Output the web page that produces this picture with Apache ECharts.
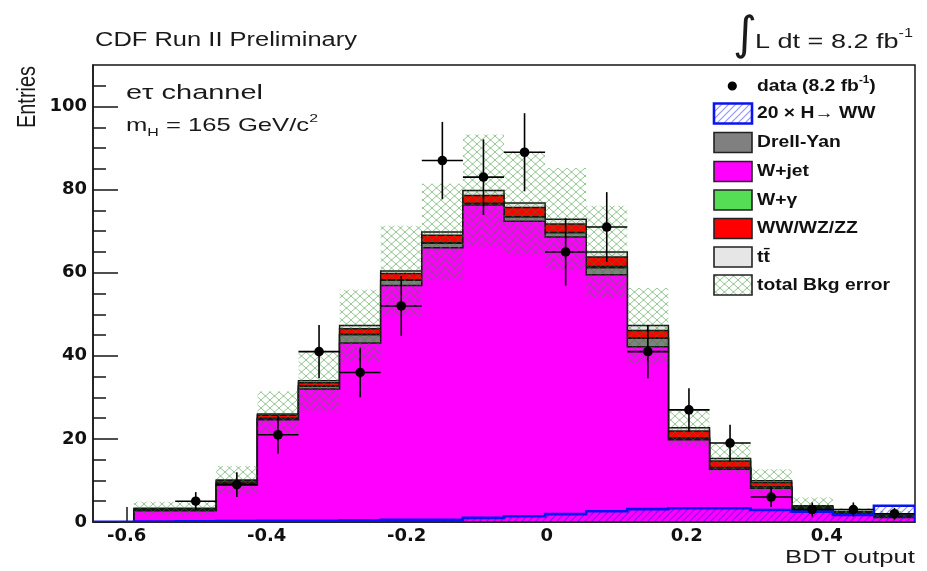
<!DOCTYPE html>
<html>
<head>
<meta charset="utf-8">
<title>CDF BDT output – eτ channel</title>
<script src="https://cdn.jsdelivr.net/npm/echarts@6.0.0/dist/echarts.min.js"></script>
<style>
html,body{margin:0;padding:0;background:#fff;}
#chart{width:927px;height:571px;}
</style>
</head>
<body>
<div id="chart"></div>
<script>
// ---------------- data ----------------
const binEdges = [-0.648,-0.5893,-0.5306,-0.4719,-0.4132,-0.3545,-0.2958,-0.2371,-0.1784,-0.1197,-0.0610,-0.0023,0.0564,0.1151,0.1738,0.2325,0.2912,0.3499,0.4086,0.4673,0.5260];
const wJet      = [0, 2.7, 2.7, 8.9, 24.6, 32.0, 43.1, 56.9, 66.0, 76.3, 72.4, 68.6, 59.5, 42.2, 19.8, 12.7, 8.1, 2.7, 1.7, 1.1];
const drellYan  = [0, 0.2, 0.2, 0.4, 0.3, 0.7, 2.0, 1.3, 1.1, 0.3, 1.0, 1.0, 1.7, 2.0, 0.3, 0.3, 0.3, 0.6, 0.3, 0.1];
const wGamma    = [0, 0.05, 0.05, 0.1, 0.1, 0.1, 0.1, 0.1, 0.1, 0.1, 0.1, 0.1, 0.3, 0.1, 0.1, 0.1, 0.1, 0.1, 0.05, 0.05];
const dibosons  = [0, 0.25, 0.25, 0.5, 0.7, 0.7, 1.3, 1.5, 1.8, 1.9, 2.2, 2.0, 2.3, 1.8, 1.7, 1.6, 1.0, 0.3, 0.3, 0.35];
const ttbar     = [0, 0.1, 0.1, 0.2, 0.3, 0.5, 0.8, 0.6, 0.8, 1.2, 1.1, 1.2, 1.2, 1.2, 0.8, 0.6, 0.4, 0.2, 0.15, 0.1];
const bkgError  = [0, 1.6, 1.6, 3.4, 5.4, 7.2, 8.6, 10.9, 11.6, 13.5, 12.4, 12.3, 11.1, 9.0, 4.5, 3.7, 2.8, 2.0, 0.8, 1.0];
const higgs20x  = [0.05, 0.1, 0.15, 0.2, 0.3, 0.3, 0.4, 0.5, 0.5, 1.0, 1.4, 1.9, 2.6, 3.1, 3.3, 3.3, 2.9, 2.5, 1.7, 3.9];
const dataCounts = [null, null, 5, 9, 21, 41, 36, 52, 87, 83, 89, 65, 71, 41, 27, 19, 6, 3, 3, 2];
const dataErrors = [null, null, 2.2, 3.0, 4.6, 6.4, 6.0, 7.2, 9.3, 9.1, 9.4, 8.1, 8.4, 6.4, 5.2, 4.4, 2.4, 1.7, 1.7, 1.4];
const xMajorTicks = [-0.6, -0.4, -0.2, 0, 0.2, 0.4];
const xMinorTicks = [-0.6,-0.55,-0.5,-0.45,-0.4,-0.35,-0.3,-0.25,-0.2,-0.15,-0.1,-0.05,0,0.05,0.1,0.15,0.2,0.25,0.3,0.35,0.4,0.45,0.5];
const yMajorTicks = [0, 20, 40, 60, 80, 100];
const yMinorTicks = [5,10,15,20,25,30,35,40,45,50,55,60,65,70,75,80,85,90,95,100,105];
const legendLabels = ['data', '20 × H→ WW', 'Drell-Yan', 'W+jet', 'W+γ', 'WW/WZ/ZZ', 't\u0074\u0304', 'total Bkg error'];

// ---------------- styles ----------------
const COL = {wjet:'#ff00ff', dy:'#808080', wg:'#55dd55', vv:'#ff0000', tt:'#e6e6e6', sig:'#0a14f0', line:'#161616'};
const nBins = wJet.length;

// cumulative stack (bottom -> top)
const layerVals = [wJet, drellYan, wGamma, dibosons, ttbar];
const layerCols = [COL.wjet, COL.dy, COL.wg, COL.vv, COL.tt];
const cum = [];
layerVals.forEach((arr, k) => {
  cum.push(arr.map((v, i) => v + (k > 0 ? cum[k-1][i] : 0)));
});
const total = cum[cum.length - 1];

// patterns
function crossHatch(color) {
  const c = document.createElement('canvas'); c.width = 9; c.height = 8;
  const g = c.getContext('2d');
  g.strokeStyle = color; g.lineWidth = 1;
  g.beginPath();
  g.moveTo(-1.125,-1); g.lineTo(10.125,9);
  g.moveTo(-1.125,9); g.lineTo(10.125,-1);
  g.stroke();
  return {image: c, repeat: 'repeat'};
}
function diagHatch(color) {
  const c = document.createElement('canvas'); c.width = 7; c.height = 7;
  const g = c.getContext('2d');
  g.strokeStyle = color; g.lineWidth = 1.2;
  g.beginPath();
  g.moveTo(-1,8); g.lineTo(8,-1);
  g.moveTo(-8,8); g.lineTo(1,-1);
  g.moveTo(6,8); g.lineTo(15,-1);
  g.stroke();
  return {image: c, repeat: 'repeat'};
}
const errPattern = crossHatch('rgba(40,140,40,0.5)');
const sigPattern = diagHatch('rgba(0,0,255,0.42)');

function stepPoints(vals, api) {
  const pts = [api.coord([binEdges[0], 0])];
  for (let i = 0; i < vals.length; i++) {
    pts.push(api.coord([binEdges[i], vals[i]]));
    pts.push(api.coord([binEdges[i+1], vals[i]]));
  }
  pts.push(api.coord([binEdges[vals.length], 0]));
  return pts;
}

const series = [];
// stack: draw from the top cumulative down to the bottom one (ROOT THStack style)
for (let k = cum.length - 1; k >= 0; k--) {
  const vals = cum[k], col = layerCols[k];
  series.push({
    type: 'custom', coordinateSystem: 'cartesian2d', clip: true, silent: true,
    data: [[0, 0]],
    renderItem: (p, api) => ({
      type: 'polygon', shape: {points: stepPoints(vals, api)},
      style: {fill: col, stroke: COL.line, lineWidth: 1.5}
    })
  });
}
// background error band
series.push({
  type: 'custom', coordinateSystem: 'cartesian2d', clip: true, silent: true,
  data: [[0, 0]],
  renderItem: (p, api) => {
    const children = [];
    for (let i = 0; i < nBins; i++) {
      if (!bkgError[i]) continue;
      const a = api.coord([binEdges[i], total[i] + bkgError[i]]);
      const b = api.coord([binEdges[i+1], Math.max(0, total[i] - bkgError[i])]);
      children.push({type: 'rect', shape: {x: a[0], y: a[1], width: b[0]-a[0], height: b[1]-a[1]},
        style: {fill: errPattern}});
    }
    return {type: 'group', children};
  }
});
// signal 20 x H->WW
series.push({
  type: 'custom', coordinateSystem: 'cartesian2d', clip: true, silent: true,
  data: [[0, 0]],
  renderItem: (p, api) => {
    const pts = stepPoints(higgs20x, api);
    return {type: 'group', children: [
      {type: 'polygon', shape: {points: pts}, style: {fill: sigPattern}},
      {type: 'polyline', shape: {points: pts}, style: {stroke: COL.sig, lineWidth: 2.6, fill: null}}
    ]};
  }
});
// data points
const dataItems = [];
dataCounts.forEach((v, i) => {
  if (v == null) return;
  dataItems.push([(binEdges[i] + binEdges[i+1]) / 2, v, dataErrors[i], binEdges[i], binEdges[i+1]]);
});
series.push({
  type: 'custom', coordinateSystem: 'cartesian2d', clip: false, silent: true,
  data: dataItems,
  renderItem: (p, api) => {
    const x = api.value(0), v = api.value(1), e = api.value(2), xl = api.value(3), xr = api.value(4);
    const c = api.coord([x, v]);
    const top = api.coord([x, v + e]), bot = api.coord([x, v - e]);
    const l = api.coord([xl, v]), r = api.coord([xr, v]);
    return {type: 'group', children: [
      {type: 'line', shape: {x1: top[0], y1: top[1], x2: bot[0], y2: bot[1]}, style: {stroke: '#000', lineWidth: 1.6}},
      {type: 'line', shape: {x1: l[0], y1: l[1], x2: r[0], y2: r[1]}, style: {stroke: '#000', lineWidth: 1.6}},
      {type: 'circle', shape: {cx: c[0], cy: c[1], r: 4.8}, style: {fill: '#000'}}
    ]};
  }
});

// ---------------- text helpers ----------------
const mctx = document.createElement('canvas').getContext('2d');
function segWidth(segs) {
  let w = 0;
  segs.forEach(([t, f]) => { mctx.font = f; w += mctx.measureText(t).width; });
  return w;
}
const SANS = '"Liberation Sans", Arial, Helvetica, sans-serif';
const TXT = '#1a1a1a';

function fitText(x, y, text, size, weight, target, align) {
  const f = `${weight} ${size}px ${SANS}`;
  const s = target / segWidth([[text, f]]);
  return {type: 'text', x, y, scaleX: s, silent: true, z: 100,
    style: {text, font: f, fontSize: size, fontWeight: weight, fontFamily: SANS, fill: TXT,
      textAlign: align || 'left', align: align || 'left', textVerticalAlign: 'middle', verticalAlign: 'middle'}};
}

const graphics = [];
graphics.push(fitText(95, 41, 'CDF Run II Preliminary', 19.5, 'normal', 262));
graphics.push(fitText(126, 93, 'eτ channel', 20.5, 'normal', 137));
// m_H = 165 GeV/c^2
(function(){
  const big = 18.5, small = 11.5;
  const w = segWidth([['m', `${big}px ${SANS}`], ['H', `${small}px ${SANS}`], [' = 165 GeV/c', `${big}px ${SANS}`], ['2', `${small}px ${SANS}`]]);
  graphics.push({type: 'text', x: 126, y: 126, scaleX: 192 / w, silent: true, z: 100,
    style: {text: '{n|m}{sub|H}{n| = 165 GeV/c}{sup|2}', fill: TXT, fontFamily: SANS, fontSize: big,
      textAlign: 'left', align: 'left', textVerticalAlign: 'middle', verticalAlign: 'middle',
      rich: {
        n: {fontFamily: SANS, fontSize: big, lineHeight: 26, fill: TXT},
        sub: {fontFamily: SANS, fontSize: small, lineHeight: small, verticalAlign: 'bottom', fill: TXT},
        sup: {fontFamily: SANS, fontSize: small, lineHeight: small, verticalAlign: 'top', fill: TXT}
      }}});
})();
// integral L dt
graphics.push({type: 'text', x: 745, y: 37, silent: true, z: 100,
  style: {text: '∫', font: `46px "DejaVu Sans"`, fontSize: 46, fontFamily: 'DejaVu Sans', fill: TXT,
    textAlign: 'center', align: 'center', textVerticalAlign: 'middle', verticalAlign: 'middle'}});
(function(){
  const big = 20, small = 12;
  const w = segWidth([['L dt = 8.2 fb', `${big}px ${SANS}`], ['-1', `${small}px ${SANS}`]]);
  graphics.push({type: 'text', x: 755, y: 42, scaleX: 158 / w, silent: true, z: 100,
    style: {text: '{n|L dt = 8.2 fb}{sup|-1}', fill: TXT, fontFamily: SANS, fontSize: big,
      textAlign: 'left', align: 'left', textVerticalAlign: 'middle', verticalAlign: 'middle',
      rich: {
        n: {fontFamily: SANS, fontSize: big, lineHeight: 28, fill: TXT},
        sup: {fontFamily: SANS, fontSize: small, lineHeight: small, verticalAlign: 'top', fill: TXT}
      }}});
})();
// axis titles
graphics.push(fitText(915, 558, 'BDT output', 19, 'normal', 130, 'right'));
graphics.push({type: 'text', x: 28, y: 97, rotation: Math.PI / 2, scaleY: 1.3, silent: true, z: 100,
  style: {text: 'Entries', font: `20px ${SANS}`, fontSize: 20, fontFamily: SANS, fill: TXT,
    textAlign: 'center', align: 'center', textVerticalAlign: 'middle', verticalAlign: 'middle'}});

// legend
const legY = [86, 113.5, 142.5, 171.5, 200, 228.5, 257, 285];
const LBX = 714, LBW = 38, LBH = 20, LTX = 757;
const legFont = 16.5;
const legScale = 133 / segWidth([['total Bkg error', `bold ${legFont}px ${SANS}`]]);
function legText(y, rich, plain) {
  return {type: 'text', x: LTX, y, scaleX: legScale, silent: true, z: 100,
    style: {text: rich || plain, fill: '#111', fontFamily: SANS, fontSize: legFont, fontWeight: 'bold',
      textAlign: 'left', align: 'left', textVerticalAlign: 'middle', verticalAlign: 'middle',
      rich: {
        n: {fontFamily: SANS, fontSize: legFont, fontWeight: 'bold', lineHeight: 22, fill: '#111'},
        sup: {fontFamily: SANS, fontSize: 10, fontWeight: 'bold', lineHeight: 10, verticalAlign: 'top', fill: '#111'}
      }}};
}
graphics.push({type: 'circle', shape: {cx: 732.3, cy: legY[0], r: 4.6}, style: {fill: '#000'}, silent: true, z: 100});
graphics.push(legText(legY[0], '{n|' + legendLabels[0] + ' (8.2 fb}{sup|-1}{n|)}'));
const boxStyles = [
  null,
  {fill: sigPattern, stroke: COL.sig, lineWidth: 2.6},
  {fill: COL.dy, stroke: '#222', lineWidth: 1.6},
  {fill: COL.wjet, stroke: '#222', lineWidth: 1.6},
  {fill: COL.wg, stroke: '#222', lineWidth: 1.6},
  {fill: COL.vv, stroke: '#222', lineWidth: 1.6},
  {fill: COL.tt, stroke: '#222', lineWidth: 1.6},
  {fill: errPattern, stroke: '#222', lineWidth: 1.6}
];
for (let k = 1; k < legendLabels.length; k++) {
  graphics.push({type: 'rect', shape: {x: LBX, y: legY[k] - LBH / 2, width: LBW, height: LBH},
    style: boxStyles[k], silent: true, z: 100});
  graphics.push(legText(legY[k], null, legendLabels[k]));
}

// ---------------- chart ----------------
const LABEL_FONT = {fontFamily: '"DejaVu Sans", sans-serif', fontWeight: 'bold', fontSize: 18, color: '#111'};
const xRange = {min: binEdges[0], max: binEdges[binEdges.length - 1]};
const option = {
  animation: false,
  backgroundColor: '#fff',
  grid: {left: 93, right: 12, top: 65, bottom: 49, show: true, borderColor: '#161616', borderWidth: 1.5, backgroundColor: 'transparent'},
  xAxis: [
    {type: 'value', min: xRange.min, max: xRange.max, position: 'bottom',
      axisLine: {show: true, onZero: false, lineStyle: {color: '#161616', width: 1.5}},
      axisTick: {show: true, inside: true, length: 15, customValues: xMajorTicks, lineStyle: {color: '#161616', width: 1.5}},
      axisLabel: Object.assign({show: true, margin: 5, customValues: xMajorTicks,
        formatter: v => String(Math.round(v * 10) / 10)}, LABEL_FONT),
      splitLine: {show: false}},
    {type: 'value', min: xRange.min, max: xRange.max, position: 'bottom',
      axisLine: {show: false, onZero: false},
      axisTick: {show: true, inside: true, length: 8, customValues: xMinorTicks, lineStyle: {color: '#161616', width: 1.5}},
      axisLabel: {show: false}, splitLine: {show: false}}
  ],
  yAxis: [
    {type: 'value', min: 0, max: 110, position: 'left',
      axisLine: {show: true, onZero: false, lineStyle: {color: '#161616', width: 1.5}},
      axisTick: {show: true, inside: true, length: 25, customValues: yMajorTicks, lineStyle: {color: '#161616', width: 1.5}},
      axisLabel: Object.assign({show: true, margin: 6, customValues: yMajorTicks, formatter: v => String(v)}, LABEL_FONT),
      splitLine: {show: false}},
    {type: 'value', min: 0, max: 110, position: 'left',
      axisLine: {show: false, onZero: false},
      axisTick: {show: true, inside: true, length: 13, customValues: yMinorTicks, lineStyle: {color: '#161616', width: 1.5}},
      axisLabel: {show: false}, splitLine: {show: false}}
  ],
  series: series,
  graphic: {elements: graphics}
};
const chart = echarts.init(document.getElementById('chart'), null, {renderer: 'canvas'});
chart.setOption(option);
</script>
</body>
</html>
